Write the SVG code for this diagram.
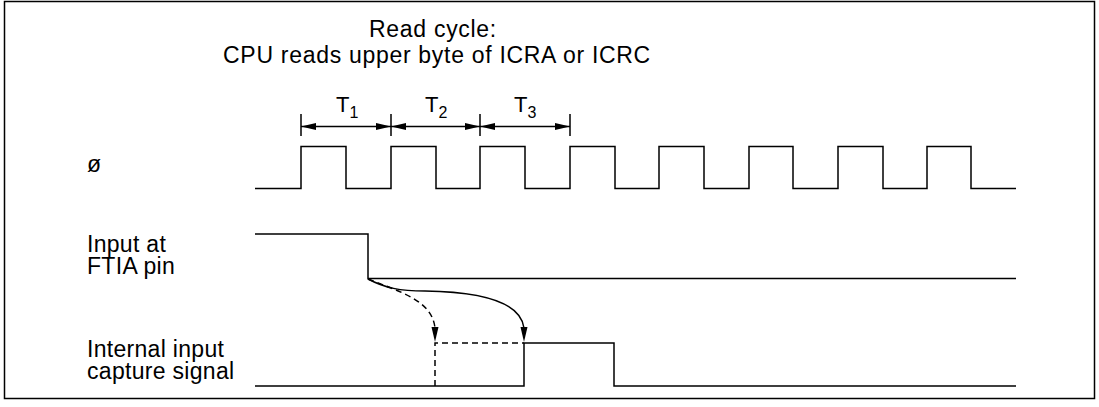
<svg xmlns="http://www.w3.org/2000/svg" width="1099" height="407" viewBox="0 0 1099 407">
<style>
text{font-family:"Liberation Sans",Arial,sans-serif;fill:#000}
.lbl{font-size:23px;letter-spacing:0.3px}
.ttl{font-size:23px;letter-spacing:0.7px;text-anchor:middle}
.tt{font-size:22px}
.sub{font-size:16px}
.w{fill:none;stroke:#000;stroke-width:1.5}
.d{fill:none;stroke:#000;stroke-width:1.5;stroke-dasharray:6,4}
.ah{fill:#000;stroke:none}
</style>
<defs>
<marker id="dim" viewBox="0 0 15 7" refX="15" refY="3.5" markerWidth="15" markerHeight="7" markerUnits="userSpaceOnUse" orient="auto-start-reverse">
<path d="M0,0 L15,3.5 L0,7 z" fill="#000"/>
</marker>
</defs>
<rect x="4.5" y="1.5" width="1090" height="397" fill="#fff" stroke="#000" stroke-width="1.5"/>
<g id="title">
<text class="ttl" x="433" y="37">Read cycle:</text>
<text class="ttl" x="437" y="63">CPU reads upper byte of ICRA or ICRC</text>
</g>
<g id="dimensions">
<path class="w" d="M301,114 V136 M391,114 V136 M480,114 V136 M570,114 V136" stroke-width="1.2"/>
<line class="w" x1="301" y1="126.5" x2="391" y2="126.5" stroke-width="1.2" marker-start="url(#dim)" marker-end="url(#dim)"/>
<line class="w" x1="391" y1="126.5" x2="480" y2="126.5" stroke-width="1.2" marker-start="url(#dim)" marker-end="url(#dim)"/>
<line class="w" x1="480" y1="126.5" x2="570" y2="126.5" stroke-width="1.2" marker-start="url(#dim)" marker-end="url(#dim)"/>
<text class="tt" x="336" y="112">T<tspan class="sub" dy="6">1</tspan></text>
<text class="tt" x="425" y="112">T<tspan class="sub" dy="6">2</tspan></text>
<text class="tt" x="514" y="112">T<tspan class="sub" dy="6">3</tspan></text>
</g>
<g id="clock">
<text class="lbl" x="87" y="172">ø</text>
<path class="w" d="M255,188.5 H301 V146.5 H346 V188.5 H391 V146.5 H436 V188.5 H480 V146.5 H525 V188.5 H570 V146.5 H615 V188.5 H659 V146.5 H704 V188.5 H749 V146.5 H793 V188.5 H838 V146.5 H883 V188.5 H927 V146.5 H971 V188.5 H1016"/>
</g>
<g id="ftia">
<text class="lbl" x="87" y="252">Input at</text>
<text class="lbl" x="87" y="274">FTIA pin</text>
<path class="w" d="M255,234 H368 V278.5 H1016"/>
</g>
<g id="capture">
<text class="lbl" x="87" y="357">Internal input</text>
<text class="lbl" x="87" y="379">capture signal</text>
<path class="w" d="M255,386 H524 V343 H614 V386 H1016"/>
<path class="d" d="M435,386 V343 H524"/>
</g>
<g id="connectors">
<path class="d" d="M368,279 C400,292 432,300 435,328"/>
<polygon class="ah" points="435,342 431.5,327 438.5,327"/>
<path class="w" d="M368,279 C385,288 400,291 425,291 C490,292 521,305 524,328"/>
<polygon class="ah" points="524,342 520.5,327 527.5,327"/>
</g>
</svg>
